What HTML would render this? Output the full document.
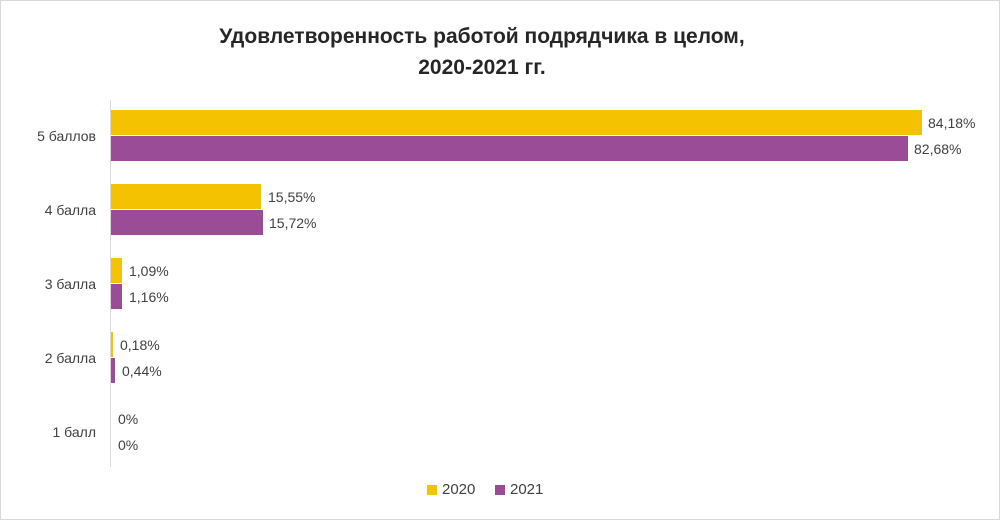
<!DOCTYPE html>
<html><head><meta charset="utf-8"><style>
body{margin:0;background:#fff}
#c{position:relative;width:998px;height:518px;border:1px solid #d9d9d9;font-family:"Liberation Sans",sans-serif;overflow:hidden}
.t{position:absolute;left:-18px;width:998px;text-align:center;font-weight:bold;font-size:21px;color:#262626}
.b{position:absolute;left:110px;height:25px}
.y{background:#F5C200}.p{background:#9B4C96}
.l{position:absolute;font-size:14px;color:#404040;line-height:16px}
.c{position:absolute;font-size:14px;color:#404040;right:903px;line-height:16px}
</style></head><body><div id="c">
<div class="t" style="top:24px">Удовлетворенность работой подрядчика в целом,</div>
<div class="t" style="top:55px">2020-2021 гг.</div>
<div style="position:absolute;left:109px;top:99px;width:1px;height:367px;background:#d9d9d9"></div>

<div class="b y" style="top:109px;width:811px"></div><div class="l" style="left:927px;top:114px">84,18%</div>
<div class="b p" style="top:135px;width:797px"></div><div class="l" style="left:913px;top:140px">82,68%</div>
<div class="c" style="top:127px">5 баллов</div>

<div class="b y" style="top:183px;width:150px"></div><div class="l" style="left:267px;top:188px">15,55%</div>
<div class="b p" style="top:209px;width:152px"></div><div class="l" style="left:268px;top:214px">15,72%</div>
<div class="c" style="top:201px">4 балла</div>

<div class="b y" style="top:257px;width:11px"></div><div class="l" style="left:128px;top:262px">1,09%</div>
<div class="b p" style="top:283px;width:11px"></div><div class="l" style="left:128px;top:288px">1,16%</div>
<div class="c" style="top:275px">3 балла</div>

<div class="b y" style="top:331px;width:2px"></div><div class="l" style="left:119px;top:336px">0,18%</div>
<div class="b p" style="top:357px;width:4px"></div><div class="l" style="left:121px;top:362px">0,44%</div>
<div class="c" style="top:349px">2 балла</div>

<div class="l" style="left:117px;top:410px">0%</div>
<div class="l" style="left:117px;top:436px">0%</div>
<div class="c" style="top:423px">1 балл</div>

<div style="position:absolute;left:426px;top:484px;width:10px;height:10px;background:#F5C200"></div>
<div class="l" style="left:441px;top:481px;font-size:15px">2020</div>
<div style="position:absolute;left:494px;top:484px;width:10px;height:10px;background:#9B4C96"></div>
<div class="l" style="left:509px;top:481px;font-size:15px">2021</div>
</div></body></html>
